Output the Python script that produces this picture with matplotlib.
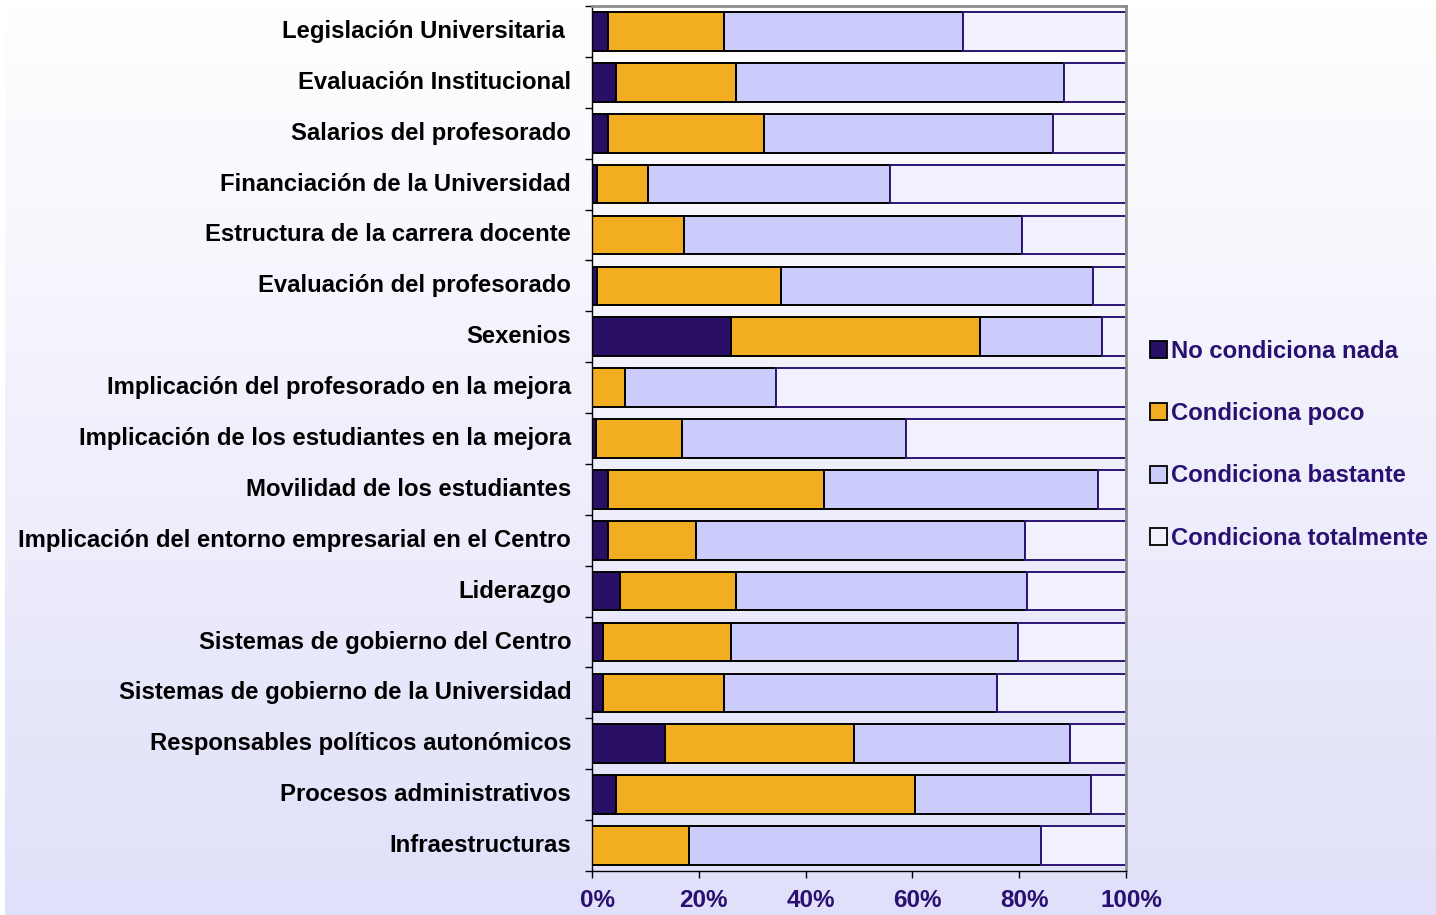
import numpy as np
import matplotlib
matplotlib.use("Agg")
import matplotlib.pyplot as plt
from matplotlib.patches import Patch
from matplotlib.transforms import ScaledTranslation

plt.rcParams['font.family'] = ['Liberation Sans', 'DejaVu Sans']

categorias = [
    "Legislación Universitaria ",
    "Evaluación Institucional",
    "Salarios del profesorado",
    "Financiación de la Universidad",
    "Estructura de la carrera docente",
    "Evaluación del profesorado",
    "Sexenios",
    "Implicación del profesorado en la mejora",
    "Implicación de los estudiantes en la mejora",
    "Movilidad de los estudiantes",
    "Implicación del entorno empresarial en el Centro",
    "Liderazgo",
    "Sistemas de gobierno del Centro",
    "Sistemas de gobierno de la Universidad",
    "Responsables políticos autonómicos",
    "Procesos administrativos",
    "Infraestructuras",
]

# percentages per category, top to bottom
nada = [3.0, 4.5, 3.0, 0.9, 0.0, 0.9, 26.0, 0.0, 0.8, 2.9, 2.9, 5.2, 2.0, 2.0, 13.6, 4.5, 0.0]
poco = [21.7, 22.5, 29.2, 9.6, 17.2, 34.5, 46.6, 6.1, 16.0, 40.5, 16.5, 21.7, 24.1, 22.7, 35.5, 56.0, 18.2]
bastante = [44.8, 61.4, 54.1, 45.3, 63.3, 58.4, 22.9, 28.3, 42.0, 51.4, 61.6, 54.6, 53.6, 51.1, 40.4, 32.9, 65.9]
totalmente = [30.5, 11.6, 13.7, 44.2, 19.5, 6.2, 4.5, 65.6, 41.2, 5.2, 19.0, 18.5, 20.3, 24.2, 10.5, 6.6, 15.9]

series = ["No condiciona nada", "Condiciona poco", "Condiciona bastante", "Condiciona totalmente"]
colores = ["#2a0f66", "#f2ae20", "#ccccfc", "#f2f2fe"]
bordes = ["black", "black", "black", "#2c1574"]
texto_color = "#2a1070"

fig = plt.figure(figsize=(14.36, 9.15), dpi=100)

# background gradient, white at top to light lavender at bottom
bg = fig.add_axes([0.0035, 0, 0.9965, 1], zorder=-10)
grad = np.linspace(0, 1, 256).reshape(-1, 1)
top = np.array([1.0, 1.0, 1.0])
bot = np.array([224, 224, 250]) / 255.0
img = top + (bot - top) * grad[:, :, None]
bg.imshow(img, aspect="auto", extent=[0, 1, 0, 1])
bg.axis("off")

ax = fig.add_axes([0.4123, 0.0481, 0.3718, 0.9453])
ax.patch.set_alpha(0)

y = np.arange(len(categorias))
left = np.zeros(len(categorias))
for vals, name, c, ec in zip([nada, poco, bastante, totalmente], series, colores, bordes):
    vals = np.array(vals)
    ax.barh(y, vals, left=left, height=0.76, color=c, edgecolor=ec, linewidth=1.4, label=name)
    left += vals

ax.set_xlim(0, 100)
ax.set_ylim(len(categorias) - 0.5, -0.5)
ax.set_yticks(y)
ax.set_yticklabels(categorias, fontsize=17.2, fontweight="bold")
ax.set_yticks(np.arange(-0.5, len(categorias)), minor=True)
ax.tick_params(axis="y", which="major", length=0, pad=15)
ax.tick_params(axis="y", which="minor", length=5, width=1, direction="out")
up = ScaledTranslation(0, 2.5 / 100, fig.dpi_scale_trans)
for lab in ax.get_yticklabels():
    lab.set_transform(lab.get_transform() + up)

ax.set_xticks([0, 20, 40, 60, 80, 100])
ax.set_xticklabels(["0%", "20%", "40%", "60%", "80%", "100%"], fontsize=17.5,
                   fontweight="bold", color=texto_color)
ax.tick_params(axis="x", length=5, width=1, direction="out", pad=8)
shift = ScaledTranslation(5 / 100, 0, fig.dpi_scale_trans)
for lab in ax.get_xticklabels():
    lab.set_transform(lab.get_transform() + shift)

for s in ["top", "right"]:
    ax.spines[s].set_color("#8c8c8c")
    ax.spines[s].set_linewidth(2)
for s in ["left", "bottom"]:
    ax.spines[s].set_color("black")
    ax.spines[s].set_linewidth(1)

handles = [Patch(facecolor=c, edgecolor="black", linewidth=1.3) for c in colores]
fig.legend(handles, series, loc="center left", bbox_to_anchor=(0.786, 0.514),
           frameon=False, prop={"size": 17.2, "weight": "bold"}, labelcolor=texto_color,
           handlelength=0.72, handleheight=0.72, handletextpad=0.15, labelspacing=1.65)

fig.savefig("out.png", dpi=100)
